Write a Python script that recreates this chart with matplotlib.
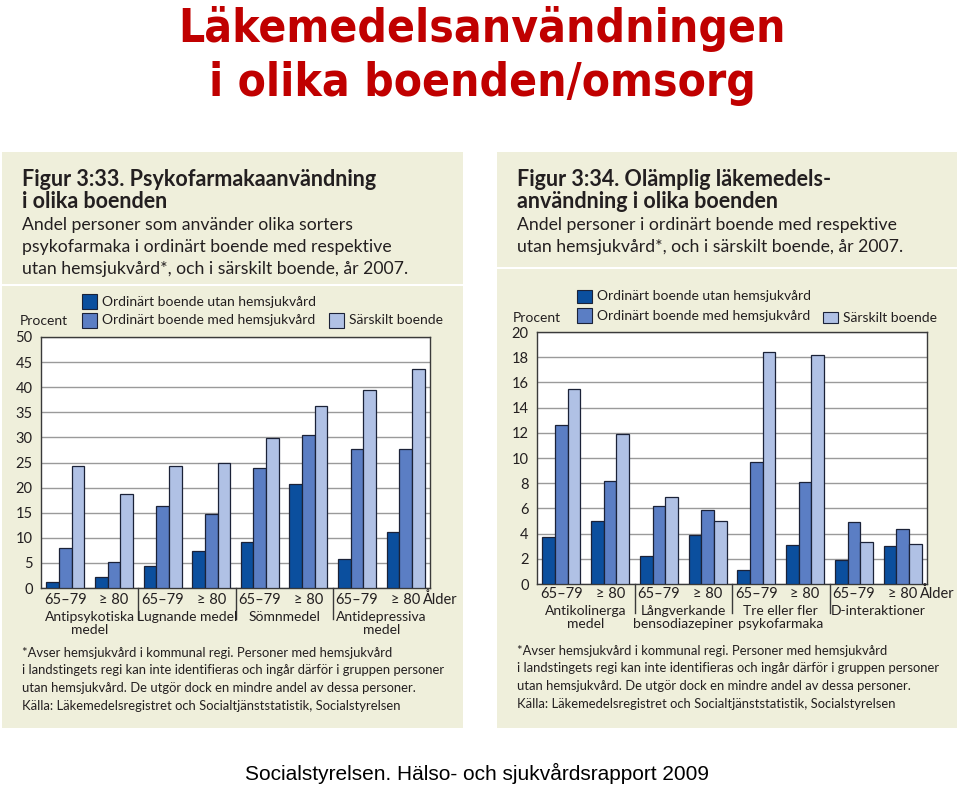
import matplotlib
matplotlib.use("Agg")
import matplotlib.pyplot as plt
from matplotlib.patches import Rectangle
import matplotlib.transforms as mtrans

# ---- data ----
age_labels = ["65–79", "≥ 80"] * 4

psyko_categories = ["Antipsykotiska\nmedel", "Lugnande medel", "Sömnmedel", "Antidepressiva\nmedel"]
psyko_utan = [1.1, 2.1, 4.3, 7.4, 9.1, 20.7, 5.7, 11.2]
psyko_med = [7.9, 5.2, 16.3, 14.7, 23.9, 30.5, 27.6, 27.6]
psyko_sarskilt = [24.3, 18.8, 24.3, 24.9, 29.8, 36.2, 39.5, 43.6]

olamplig_categories = ["Antikolinerga\nmedel", "Långverkande\nbensodiazepiner",
                       "Tre eller fler\npsykofarmaka", "D-interaktioner"]
olamplig_utan = [3.7, 5.0, 2.2, 3.9, 1.1, 3.1, 1.9, 3.0]
olamplig_med = [12.6, 8.2, 6.2, 5.9, 9.7, 8.1, 4.9, 4.4]
olamplig_sarskilt = [15.5, 11.9, 6.9, 5.0, 18.4, 18.2, 3.3, 3.2]

series_names = ["Ordinärt boende utan hemsjukvård", "Ordinärt boende med hemsjukvård", "Särskilt boende"]

footnote = ["*Avser hemsjukvård i kommunal regi. Personer med hemsjukvård",
            "i landstingets regi kan inte identifieras och ingår därför i gruppen personer",
            "utan hemsjukvård. De utgör dock en mindre andel av dessa personer.",
            "Källa: Läkemedelsregistret och Socialtjänststatistik, Socialstyrelsen"]

# ---- style ----
W, H = 959, 788
BEIGE = "#efefdb"
TXT = "#231f20"
COLS = ["#0b4f9e", "#5b7ec4", "#b0c1e5"]
EDGE = "#1b2238"
PF = ["Lato", "DejaVu Sans"]

def fx(x):
    return x / W

def fy(y):
    return 1 - y / H

fig = plt.figure(figsize=(W / 100, H / 100), dpi=100)
fig.patch.set_facecolor("white")

def box(x0, y0, x1, y1, color):
    fig.add_artist(Rectangle((fx(x0), fy(y1)), (x1 - x0) / W, (y1 - y0) / H,
                             transform=fig.transFigure, facecolor=color, edgecolor="none", zorder=0))

def txt(x, y, s, size=11, weight="normal", ha="left", va="center", **kw):
    fig.text(fx(x), fy(y), s, fontsize=size, fontweight=weight, ha=ha, va=va,
             color=kw.pop("color", TXT), family=kw.pop("family", PF), **kw)

# slide title
txt(482, 42, "Läkemedelsanvändningen", size=33, weight="bold", ha="center", va="baseline",
    color="#c00000", family=["DejaVu Sans"], fontstretch="condensed")
txt(482, 96, "i olika boenden/omsorg", size=33, weight="bold", ha="center", va="baseline",
    color="#c00000", family=["DejaVu Sans"], fontstretch="condensed")
txt(477, 773, "Socialstyrelsen. Hälso- och sjukvårdsrapport 2009", size=15, ha="center",
    color="black", family=["Liberation Sans", "DejaVu Sans"])

# panel backgrounds
box(2, 152, 463, 284, BEIGE)
box(2, 286, 463, 728, BEIGE)
box(497, 152, 957, 267, BEIGE)
box(497, 269, 957, 728, BEIGE)


def panel(x_left, heading, sub, leg, ax_box, ymax, ystep, cats, values, lab_y, cat_y, foot_y, procent):
    hy = 180
    for line in heading:
        txt(x_left, hy, line, size=15.5, weight="bold")
        hy += 22
    hy += 1
    for line in sub:
        txt(x_left, hy, line, size=12.7)
        hy += 22

    # legend
    for k, ((sx, sy, sw, sh), name) in enumerate(zip(leg, series_names)):
        fig.add_artist(Rectangle((fx(sx), fy(sy + sh)), sw / W, sh / H, transform=fig.transFigure,
                                 facecolor=COLS[k], edgecolor=EDGE, lw=0.8))
        txt(sx + sw + 5, sy + sh / 2, name, size=10)
    txt(procent[0], procent[1], "Procent", size=10)

    x0, y0, x1, y1 = ax_box
    ax = fig.add_axes([fx(x0), fy(y1), (x1 - x0) / W, (y1 - y0) / H])
    ax.set_facecolor("white")
    n = len(values[0])
    bw = 0.26
    for k, vals in enumerate(values):
        ax.bar([i + (k - 1) * bw for i in range(n)], vals, width=bw, color=COLS[k],
               edgecolor=EDGE, lw=0.9, zorder=3)
    ax.set_xlim(-0.5, n - 0.5)
    ax.set_ylim(0, ymax)
    ax.set_yticks(range(0, ymax + 1, ystep))
    ax.set_yticklabels([str(v) for v in range(0, ymax + 1, ystep)], family=PF, fontsize=10.5, color=TXT)
    ax.tick_params(axis="y", length=0, pad=6)
    ax.grid(axis="y", color="#9a9a9a", lw=1, zorder=0)
    ax.set_xticks([])
    for s in ax.spines.values():
        s.set_color("#3a3a3a")
        s.set_linewidth(1)

    trans = mtrans.blended_transform_factory(ax.transData, fig.transFigure)
    for i, lab in enumerate(age_labels):
        ax.text(i, fy(lab_y), lab, transform=trans, ha="center", va="center",
                fontsize=10.5, color=TXT, family=PF)
    ax.text(n - 1 + 0.34, fy(lab_y), "Ålder", transform=trans, ha="left", va="center",
            fontsize=10.5, color=TXT, family=PF)
    for b in [1.5, 3.5, 5.5]:
        ax.plot([b, b], [fy(y1), fy(cat_y + 8)], transform=trans, color="#3a3a3a",
                lw=1, clip_on=False)
    for j, c in enumerate(cats):
        ax.text(2 * j + 0.5, fy(cat_y), c, transform=trans, ha="center", va="top",
                fontsize=10, color=TXT, family=PF, linespacing=1.1)

    yy = foot_y
    for line in footnote:
        txt(x_left, yy, line, size=9.4)
        yy += 17.5


panel(22,
      ["Figur 3:33. Psykofarmakaanvändning", "i olika boenden"],
      ["Andel personer som använder olika sorters",
       "psykofarmaka i ordinärt boende med respektive",
       "utan hemsjukvård*, och i särskilt boende, år 2007."],
      [(82, 294, 15, 15), (82, 313, 15, 15), (329, 313, 15, 15)],
      (41, 337, 430, 588), 50, 5, psyko_categories,
      [psyko_utan, psyko_med, psyko_sarskilt],
      600, 611, 653, (20, 321))

panel(517,
      ["Figur 3:34. Olämplig läkemedels-", "användning i olika boenden"],
      ["Andel personer i ordinärt boende med respektive",
       "utan hemsjukvård*, och i särskilt boende, år 2007."],
      [(577, 290, 15, 13), (577, 308, 15, 15), (823, 312, 15, 11)],
      (537, 332, 927, 584), 20, 2, olamplig_categories,
      [olamplig_utan, olamplig_med, olamplig_sarskilt],
      594, 605, 651, (513, 318))

fig.savefig("out.png", dpi=100)
